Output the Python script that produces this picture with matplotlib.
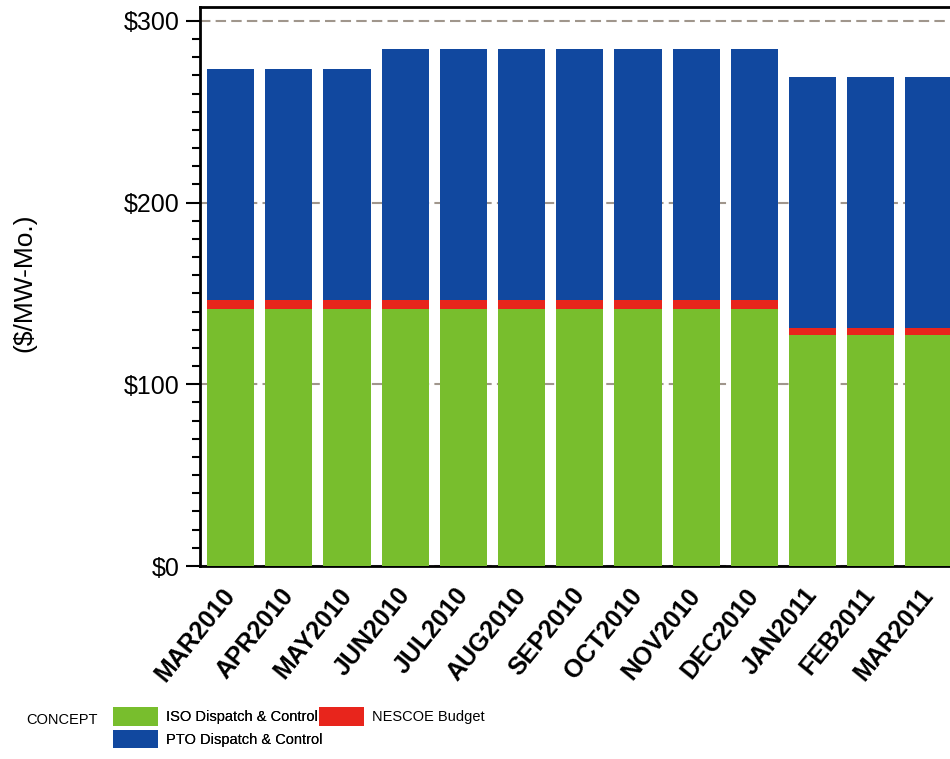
import numpy as np
import matplotlib
matplotlib.use("Agg")
import matplotlib.pyplot as plt
from matplotlib.ticker import MultipleLocator

months = ["MAR2010", "APR2010", "MAY2010", "JUN2010", "JUL2010", "AUG2010",
          "SEP2010", "OCT2010", "NOV2010", "DEC2010", "JAN2011", "FEB2011", "MAR2011"]
iso = [141.4, 141.4, 141.4, 141.4, 141.4, 141.4, 141.4, 141.4, 141.4, 141.4, 127.1, 127.1, 127.1]
nescoe = [5.0, 5.0, 5.0, 5.0, 5.0, 5.0, 5.0, 5.0, 5.0, 5.0, 4.1, 4.1, 4.1]
pto = [127.1, 127.1, 127.1, 138.1, 138.1, 138.1, 138.1, 138.1, 138.1, 138.1, 137.9, 137.9, 137.9]

green = "#78be2d"
red = "#e8251c"
blue = "#11489f"

plt.rcParams['font.family'] = ['Liberation Sans', 'DejaVu Sans']

W, H = 950, 759
fig = plt.figure(figsize=(W / 100, H / 100), dpi=100)
ax = fig.add_axes([200 / W, 1 - 566 / H, 750 / W, 559 / H])

x = np.arange(len(months))
bw = 0.81
b_iso = ax.bar(x, iso, bw, color=green, label="ISO Dispatch & Control", zorder=3)
b_nes = ax.bar(x, nescoe, bw, bottom=iso, color=red, label="NESCOE Budget", zorder=3)
bot2 = np.array(iso) + np.array(nescoe)
b_pto = ax.bar(x, pto, bw, bottom=bot2, color=blue, label="PTO Dispatch & Control", zorder=3)

ax.set_xlim(-0.524, 12.36)
ax.set_ylim(0, 307.6)

ax.yaxis.set_minor_locator(MultipleLocator(10))
ax.set_yticks([0, 100, 200, 300])
ax.set_yticklabels(["$0", "$100", "$200", "$300"], fontsize=18)
ax.tick_params(axis='y', which='major', length=10, width=1.5, pad=5, direction='out')
ax.tick_params(axis='y', which='minor', length=6, width=1.5, direction='out')

ax.set_xticks(x)
ax.set_xticklabels(months, fontsize=18, fontweight='bold', rotation=51,
                   ha='right', va='center', rotation_mode='anchor')
ax.tick_params(axis='x', length=0, pad=18)

ax.yaxis.grid(True, which='major', linestyle=(0, (5, 2.5)), color='#a0968c', linewidth=1.5, zorder=1)
ax.set_axisbelow(True)

for s in ['left', 'top', 'bottom']:
    ax.spines[s].set_linewidth(2)
    ax.spines[s].set_color('black')
ax.spines['right'].set_visible(False)

fig.text(24 / W, 1 - 283 / H, "($/MW-Mo.)", rotation=90, fontsize=19,
         ha='center', va='center')

# legend
fs = 10.5
fpx = fs * 100 / 72
fig.text(26 / W, 1 - 720 / H, "CONCEPT", fontsize=fs, ha='left', va='center')
leg_kw = dict(loc='upper left', frameon=False, borderpad=0, borderaxespad=0,
              handlelength=45 / fpx, handleheight=23 / fpx, handletextpad=0.55,
              labelspacing=0.3, fontsize=fs)
leg1 = fig.legend(handles=[b_iso, b_pto], bbox_to_anchor=(113 / W, 1 - 707 / H), **leg_kw)
fig.add_artist(leg1)
leg2 = fig.legend(handles=[b_nes], bbox_to_anchor=(319 / W, 1 - 707 / H), **leg_kw)

fig.savefig("out.png", dpi=100)
